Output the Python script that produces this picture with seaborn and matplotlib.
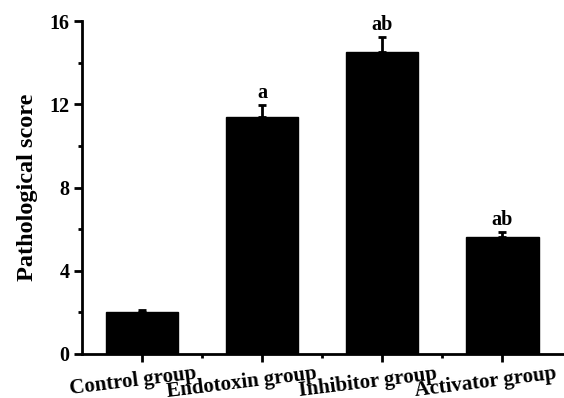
import numpy as np
import pandas as pd
import matplotlib
matplotlib.use("Agg")
import matplotlib.pyplot as plt
import matplotlib.transforms as mtransforms
import seaborn as sns
from matplotlib.ticker import MultipleLocator, FixedLocator

groups = ["Control group", "Endotoxin group", "Inhibitor group", "Activator group"]
scores = [2.0, 11.4, 14.5, 5.6]
errors = [0.1, 0.58, 0.75, 0.28]
letters = ["", "a", "ab", "ab"]
yticks = [0, 4, 8, 12, 16]

sns.set_theme(style="ticks")
plt.rcParams["font.family"] = ["Liberation Serif", "DejaVu Serif"]
plt.rcParams["font.weight"] = "bold"
for k in ["text.color", "axes.labelcolor", "xtick.color", "ytick.color", "axes.edgecolor"]:
    plt.rcParams[k] = "black"

fig = plt.figure(figsize=(5.64, 3.98), dpi=100)
ax = fig.add_axes([0.1454, 0.1106, 0.852, 0.8365])

df = pd.DataFrame({"group": groups, "score": scores})
sns.barplot(data=df, x="group", y="score", color="black", width=0.6,
            errorbar=None, ax=ax, saturation=1, edgecolor="black")

x = np.arange(len(groups))
ax.errorbar(x, scores, yerr=[np.zeros(len(errors)), errors], fmt="none",
            ecolor="black", elinewidth=2, capsize=3, capthick=2)

for xi, s, e, lab in zip(x, scores, errors, letters):
    if lab:
        ax.text(xi, s + e + 0.08, lab, ha="center", va="bottom",
                fontsize=14.5, fontweight="bold", color="black")

ax.set_xlim(-0.5, 3.5)
ax.set_ylim(0, 16)
ax.set_yticks(yticks)
ax.yaxis.set_minor_locator(MultipleLocator(2))
ax.xaxis.set_minor_locator(FixedLocator([0.5, 1.5, 2.5]))
ax.set_xlabel("")
ax.set_ylabel("Pathological score", fontsize=17.5, fontweight="bold", labelpad=8)

for sp in ["top", "right"]:
    ax.spines[sp].set_visible(False)
for sp in ["left", "bottom"]:
    ax.spines[sp].set_linewidth(2)
    ax.spines[sp].set_color("black")
ax.tick_params(which="major", length=6, width=2, color="black", direction="out")
ax.tick_params(which="minor", length=3, width=2, color="black", direction="out")
ax.tick_params(axis="x", pad=1)
ax.tick_params(axis="y", pad=3)

ax.set_xticks(x)
ax.set_xticklabels(groups, rotation=7, fontsize=15, fontweight="bold",
                   ha="right", va="top", rotation_mode="anchor")
offset = mtransforms.ScaledTranslation(0.53, 0, fig.dpi_scale_trans)
for t in ax.get_xticklabels():
    t.set_transform(t.get_transform() + offset)
for t in ax.get_yticklabels():
    t.set_fontsize(14.5)
    t.set_fontweight("bold")

fig.savefig("out.png", dpi=100)
